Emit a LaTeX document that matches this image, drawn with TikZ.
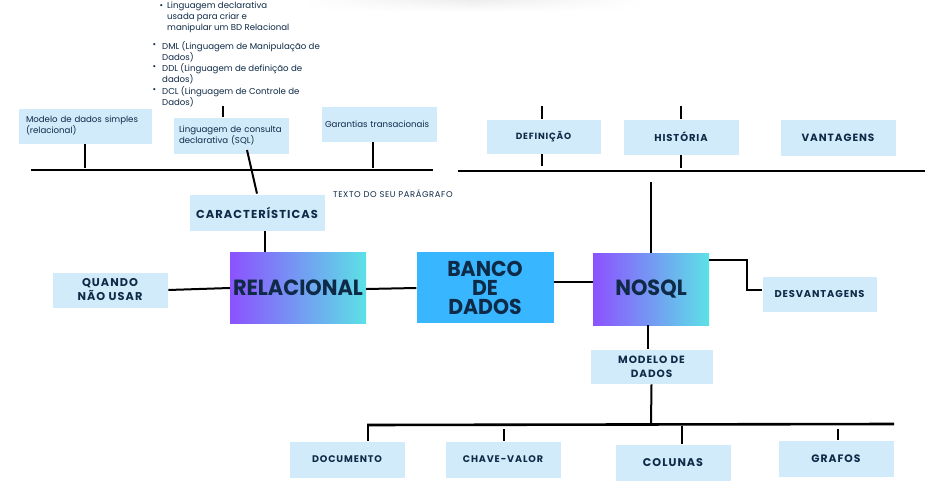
\documentclass[tikz,border=0pt]{standalone}
\usepackage{fontspec}
\setmainfont{Poppins}
\newfontfamily\hfont[LetterSpace=9]{Poppins}
\newfontfamily\tfont[LetterSpace=7]{Poppins}
\newfontfamily\bigfont[FakeStretch=0.95]{Poppins}
\usetikzlibrary{fadings}
\definecolor{ink}{HTML}{0E2A47}
\definecolor{lbox}{HTML}{D2EBFB}
\definecolor{gradL}{HTML}{8C52FF}
\definecolor{gradR}{HTML}{5CE1E6}
\definecolor{blueb}{HTML}{38B6FF}
\tikzfading[name=fadelr, left color=transparent!100, right color=transparent!100, middle color=transparent!0]
\begin{document}
\begin{tikzpicture}[x=1pt,y=-1pt,
  lb/.style={fill=lbox, draw=white, line width=0.8pt, minimum width=116pt, minimum height=36pt, inner sep=0pt, text=ink, align=center},
  hd/.style={font=\hfont\bfseries\fontsize{#1}{14}\selectfont},
  txtbox/.style={lb, align=left, font=\fontsize{8.6}{11}\selectfont},
  gb/.style={left color=gradL, right color=gradR, draw=none, minimum width=#1, minimum height=71pt, inner sep=0pt, text=ink, font=\bigfont\bfseries\fontsize{22}{18.5}\selectfont},
  small/.style={text=ink, font=\fontsize{8.6}{11}\selectfont, inner sep=0pt, align=left},
  ln/.style={line width=2pt, black},
  hl/.style={line width=2.6pt, black}
]
\useasboundingbox (0,0) rectangle (937,492);
\shade[top color=black!7, bottom color=white, path fading=fadelr] (300,0) rectangle (645,12);

% bullet texts
\node[small] (bu1) at (161.5,7) {•};
\node[small, anchor=north west] (t1) at (167,2) {Linguagem declarativa\\usada para criar e\\manipular um BD Relacional};
\node[small] (bu2) at (154.5,46) {•};
\node[small, anchor=north west] (t2) at (162,41) {DML (Linguagem de Manipulação de\\Dados)};
\node[small] (bu3) at (154.5,68) {•};
\node[small, anchor=north west] (t3) at (162,63) {DDL (Linguagem de definição de\\dados)};
\node[small] (bu4) at (154.5,91) {•};
\node[small, anchor=north west] (t4) at (162,86) {DCL (Linguagem de Controle de\\Dados)};

% left top boxes
\node[txtbox, minimum width=134pt, text width=118pt] (mod) at (85,126) {Modelo de dados simples\\(relacional)};
\node[txtbox, minimum height=37pt, text width=104pt] (sql) at (231,135.5) {Linguagem de consulta\\declarativa (SQL)};
\node[txtbox, text width=108pt] (gar) at (379,124) {Garantias transacionais};
\node[text=ink, font=\tfont\fontsize{8.4}{10}\selectfont, inner sep=0pt, anchor=west] (par) at (333,194) {TEXTO DO SEU PARÁGRAFO};

% right top boxes
\node[lb, hd=9, minimum width=115pt, minimum height=35pt] (def) at (543.5,136.5) {DEFINIÇÃO};
\node[lb, hd=10] (hist) at (681,137) {HISTÓRIA};
\node[lb, hd=10.5, minimum height=37pt] (vant) at (838,137.5) {VANTAGENS};

% middle
\node[lb, hd=11.5, minimum width=136pt, minimum height=37pt] (car) at (257,212.5) {CARACTERÍSTICAS};
\node[lb, hd=11.3] (quando) at (110,290) {QUANDO\\NÃO USAR};
\node[gb=136pt] (rel) at (298,287.5) {RELACIONAL};
\node[fill=blueb, minimum width=137pt, minimum height=71pt, inner sep=0pt, text=ink, align=center, font=\bigfont\bfseries\fontsize{21.5}{19}\selectfont] (banco) at (485,287.5) {BANCO\\DE\\DADOS};
\node[gb=116pt, minimum height=72pt] (nosql) at (651,289) {NOSQL};
\node[lb, hd=9.9, minimum width=115pt] (desv) at (819.5,294) {DESVANTAGENS};

% bottom
\node[lb, hd=10.5, minimum width=123pt, minimum height=35pt] (modelo) at (651.5,366.5) {MODELO DE\\DADOS};
\node[lb, hd=9.6, minimum height=37pt] (doc) at (347,459.5) {DOCUMENTO};
\node[lb, hd=9.6, minimum height=37pt] (chave) at (503,459.5) {CHAVE-VALOR};
\node[lb, hd=11.2, minimum height=37pt] (col) at (673,462.5) {COLUNAS};
\node[lb, hd=10.8, minimum height=37pt] (graf) at (836,458.5) {GRAFOS};

% horizontal bars
\coordinate (h1a) at (31,170); \coordinate (h1b) at (433,170);
\coordinate (h2a) at (458,171); \coordinate (h2b) at (925,171);
\coordinate (h3a) at (367,425); \coordinate (h3b) at (894,424);
\draw[hl] (h1a) -- (h1b);
\draw[hl] (h2a) -- (h2b);
\draw[hl] (h3a) -- (h3b);

% connectors
\coordinate (k1) at (223,106);
\draw[ln] (k1) -- (k1 |- sql.north);
\draw[ln] (mod.south) -- (85,168);
\draw[ln] (gar.south -| 373,0) -- (373,168);
\coordinate (sqld) at (247,150);
\draw[ln] (sqld) -- (car.north);
\draw[ln] (car.south -| 265,0) -- (rel.north -| 265,0);
\draw[ln] (quando.east) -- (rel.west |- 0,288);
\draw[ln] (rel.east |- 0,289) -- (banco.west |- 0,288);
\draw[ln] (banco.east |- 0,282) -- (nosql.west |- 0,282);
\coordinate (nup) at (651,182);
\draw[ln] (nosql.north) -- (nup);
\draw[ln] (nosql.east |- 0,260) -- (747,260) -- (747,290) -- (desv.west |- 0,290);
\coordinate (d1) at (542,106); \coordinate (d2) at (542,166);
\draw[ln] (d1) -- (d1 |- def.north);
\draw[ln] (d2 |- def.south) -- (d2);
\coordinate (e1) at (681,106); \coordinate (e2) at (681,168);
\draw[ln] (e1) -- (hist.north);
\draw[ln] (hist.south) -- (e2);
\draw[ln] (nosql.south -| 648,0) -- (modelo.north -| 648,0);
\draw[ln] (modelo.south) -- (651,424);
\draw[ln] (368,426) -- (doc.north -| 368,0);
\draw[ln] (504,429) -- (chave.north -| 504,0);
\draw[ln] (682,426) -- (col.north -| 682,0);
\draw[ln] (838,429) -- (graf.north -| 838,0);
\end{tikzpicture}
\end{document}
